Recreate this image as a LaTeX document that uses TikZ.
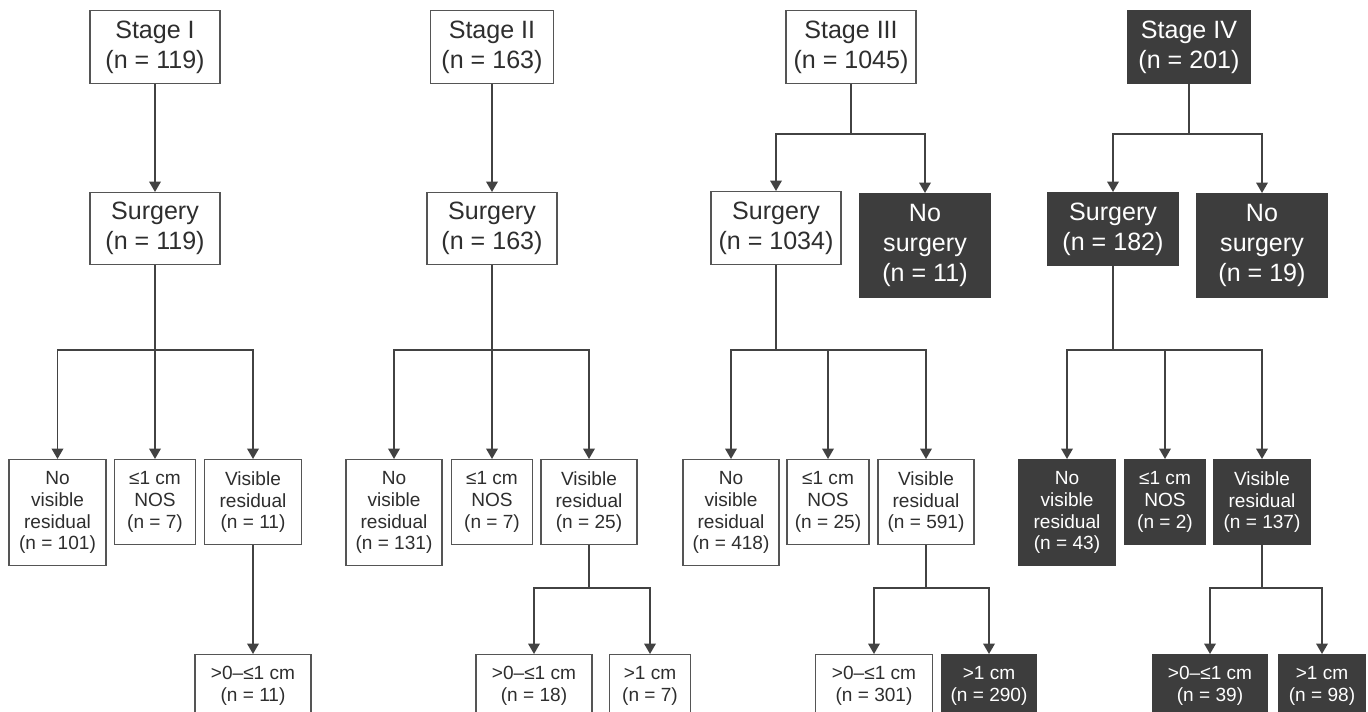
\documentclass[tikz,border=0pt]{standalone}
\usepackage{fontspec}
\setmainfont{Liberation Sans}
\usetikzlibrary{arrows.meta}
\definecolor{dk}{HTML}{3D3D3D}
\definecolor{ln}{HTML}{424242}
\definecolor{bd}{HTML}{555555}
\definecolor{tx}{HTML}{2E2E2E}
\tikzset{
  wbox/.style={draw=bd, line width=0.9pt, fill=white, text=tx, align=center, inner sep=0pt, anchor=north},
  dbox/.style={draw=dk, line width=0.9pt, fill=dk, text=white, align=center, inner sep=0pt, anchor=north},
  big/.style={font=\fontsize{18.8}{22.5}\selectfont, execute at begin node={\rule{0pt}{19.3pt}}},
  sml/.style={font=\fontsize{14.3}{16.3}\selectfont, execute at begin node={\rule{0pt}{13.7pt}}},
  sz/.style 2 args={minimum width=#1*0.75pt, minimum height=#2*0.75pt},
  conn/.style={draw=ln, line width=1.45pt},
  arr/.style={conn, -{Triangle[width=8.6pt,length=7.8pt]}},
}
\begin{document}
\begin{tikzpicture}[x=0.75pt,y=-0.75pt]
\fill[white] (0,0) rectangle (1368,711);
\useasboundingbox (0,0) rectangle (1368,711);

% ---------- Stage I ----------
\node[wbox,big,sz={130}{73}] (s1) at (155,10) {Stage I\\(n = 119)};
\node[wbox,big,sz={130}{72}] (u1) at (155,192) {Surgery\\(n = 119)};
\node[wbox,sml,sz={97}{106}] (r1a) at (57.5,459) {No\\visible\\residual\\(n = 101)};
\node[wbox,sml,sz={81}{85}] (r1b) at (155,459) {≤1 cm\\NOS\\(n = 7)};
\node[wbox,sml,sz={97}{85}] (r1c) at (253,459) {Visible\\residual\\(n = 11)};
\node[wbox,sml,sz={116}{63}] (b1a) at (253,654) {>0–≤1 cm\\(n = 11)};

% ---------- Stage II ----------
\node[wbox,big,sz={123}{73}] (s2) at (492,10) {Stage II\\(n = 163)};
\node[wbox,big,sz={130}{72}] (u2) at (492,192) {Surgery\\(n = 163)};
\node[wbox,sml,sz={96}{106}] (r2a) at (394,459) {No\\visible\\residual\\(n = 131)};
\node[wbox,sml,sz={81}{85}] (r2b) at (492,459) {≤1 cm\\NOS\\(n = 7)};
\node[wbox,sml,sz={96}{85}] (r2c) at (589,459) {Visible\\residual\\(n = 25)};
\node[wbox,sml,sz={116}{63}] (b2a) at (534,654) {>0–≤1 cm\\(n = 18)};
\node[wbox,sml,sz={81}{63}] (b2b) at (650,654) {>1 cm\\(n = 7)};

% ---------- Stage III ----------
\node[wbox,big,sz={130}{73}] (s3) at (851,10) {Stage III\\(n = 1045)};
\node[wbox,big,sz={130}{73}] (u3) at (776,191) {Surgery\\(n = 1034)};
\node[dbox,big,sz={130}{104}] (ns3) at (925,193) {No\\surgery\\(n = 11)};
\node[wbox,sml,sz={96}{106}] (r3a) at (731,459) {No\\visible\\residual\\(n = 418)};
\node[wbox,sml,sz={82}{85}] (r3b) at (828,459) {≤1 cm\\NOS\\(n = 25)};
\node[wbox,sml,sz={96}{85}] (r3c) at (926,459) {Visible\\residual\\(n = 591)};
\node[wbox,sml,sz={117}{63}] (b3a) at (874,654) {>0–≤1 cm\\(n = 301)};
\node[dbox,sml,sz={94}{63}] (b3b) at (989,654) {>1 cm\\(n = 290)};

% ---------- Stage IV ----------
\node[dbox,big,sz={123}{73}] (s4) at (1189,10) {Stage IV\\(n = 201)};
\node[dbox,big,sz={130}{73}] (u4) at (1113,192) {Surgery\\(n = 182)};
\node[dbox,big,sz={130}{104}] (ns4) at (1262,193) {No\\surgery\\(n = 19)};
\node[dbox,sml,sz={96}{106}] (r4a) at (1067,459) {No\\visible\\residual\\(n = 43)};
\node[dbox,sml,sz={81}{85}] (r4b) at (1165,459) {≤1 cm\\NOS\\(n = 2)};
\node[dbox,sml,sz={96}{85}] (r4c) at (1262,459) {Visible\\residual\\(n = 137)};
\node[dbox,sml,sz={115}{63}] (b4a) at (1210,654) {>0–≤1 cm\\(n = 39)};
\node[dbox,sml,sz={86}{63}] (b4b) at (1322,654) {>1 cm\\(n = 98)};

% ---------- junctions ----------
\coordinate (j3) at (851,134);
\coordinate (j4) at (1189,134);
\coordinate (k1) at (155,350);
\coordinate (k2) at (492,350);
\coordinate (k3) at (776,350);
\coordinate (k4) at (1113,350);
\coordinate (m2) at (589,588);
\coordinate (m3) at (926,588);
\coordinate (m4) at (1262,588);

% ---------- connectors Stage I ----------
\draw[arr] (s1.south) -- (u1.north);
\draw[conn] (u1.south) -- (k1);
\draw[arr] (k1) -| (r1a.north);
\draw[arr] (k1) -- (r1b.north);
\draw[arr] (k1) -| (r1c.north);
\draw[arr] (r1c.south) -- (b1a.north);

% ---------- connectors Stage II ----------
\draw[arr] (s2.south) -- (u2.north);
\draw[conn] (u2.south) -- (k2);
\draw[arr] (k2) -| (r2a.north);
\draw[arr] (k2) -- (r2b.north);
\draw[arr] (k2) -| (r2c.north);
\draw[conn] (r2c.south) -- (m2);
\draw[arr] (m2) -| (b2a.north);
\draw[arr] (m2) -| (b2b.north);

% ---------- connectors Stage III ----------
\draw[conn] (s3.south) -- (j3);
\draw[arr] (j3) -| (u3.north);
\draw[arr] (j3) -| (ns3.north);
\draw[conn] (u3.south) -- (k3);
\draw[arr] (k3) -| (r3a.north);
\draw[arr] (k3) -| (r3b.north);
\draw[arr] (k3) -| (r3c.north);
\draw[conn] (r3c.south) -- (m3);
\draw[arr] (m3) -| (b3a.north);
\draw[arr] (m3) -| (b3b.north);

% ---------- connectors Stage IV ----------
\draw[conn] (s4.south) -- (j4);
\draw[arr] (j4) -| (u4.north);
\draw[arr] (j4) -| (ns4.north);
\draw[conn] (u4.south) -- (k4);
\draw[arr] (k4) -| (r4a.north);
\draw[arr] (k4) -| (r4b.north);
\draw[arr] (k4) -| (r4c.north);
\draw[conn] (r4c.south) -- (m4);
\draw[arr] (m4) -| (b4a.north);
\draw[arr] (m4) -| (b4b.north);
\end{tikzpicture}
\end{document}
